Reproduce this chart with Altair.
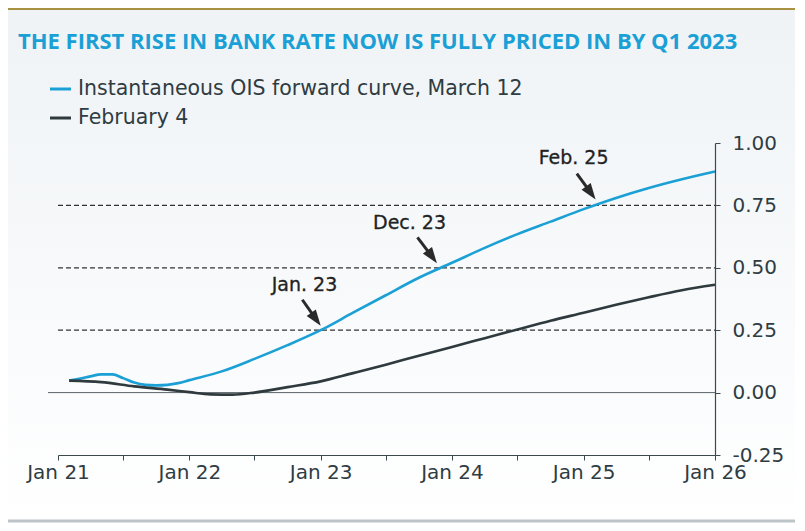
import altair as alt
import pandas as pd

# ---- data ----
mar12_dates = ["2021-02-01", "2021-03-01", "2021-04-01", "2021-05-01", "2021-06-01",
               "2021-07-01", "2021-08-01", "2021-09-01", "2021-10-01", "2021-11-01",
               "2021-12-01", "2022-01-01", "2022-04-01", "2022-07-01", "2022-10-01",
               "2023-01-01", "2023-04-01", "2023-07-01", "2023-10-01", "2024-01-01",
               "2024-04-01", "2024-07-01", "2024-10-01", "2025-01-01", "2025-04-01",
               "2025-07-01", "2025-10-01", "2026-01-01"]
mar12_values = [0.048, 0.055, 0.065, 0.073, 0.073, 0.058, 0.040, 0.031, 0.029, 0.031,
                0.038, 0.050, 0.085, 0.135, 0.190, 0.250, 0.320, 0.390, 0.460, 0.520,
                0.580, 0.635, 0.685, 0.735, 0.780, 0.820, 0.855, 0.886]

feb4_dates = ["2021-02-01", "2021-05-01", "2021-08-01", "2021-11-01", "2022-01-01",
              "2022-03-01", "2022-05-01", "2022-07-01", "2022-10-01", "2023-01-01",
              "2023-04-01", "2023-07-01", "2023-10-01", "2024-01-01", "2024-04-01",
              "2024-07-01", "2024-10-01", "2025-01-01", "2025-04-01", "2025-07-01",
              "2025-10-01", "2026-01-01"]
feb4_values = [0.048, 0.042, 0.025, 0.012, 0.002, -0.007, -0.008, 0.000, 0.022, 0.045,
               0.078, 0.112, 0.148, 0.183, 0.218, 0.253, 0.288, 0.320, 0.352, 0.382,
               0.410, 0.432]

series_names = ["Instantaneous OIS forward curve, March 12", "February 4"]
title_text = "THE FIRST RISE IN BANK RATE NOW IS FULLY PRICED IN BY Q1 2023"

ref_levels = [0.25, 0.50, 0.75]
y_ticks = [-0.25, 0.0, 0.25, 0.50, 0.75, 1.00]
x_domain = ["2021-01-01", "2026-01-01"]
quarter_ticks = [f"{y}-{m:02d}-01" for y in range(2021, 2026) for m in (1, 4, 7, 10)] + ["2026-01-01"]

ann_labels = ["Jan. 23", "Dec. 23", "Feb. 25"]
ann_text_dates = ["2022-11-17", "2023-09-05", "2024-12-04"]
ann_text_values = [0.432, 0.678, 0.938]
arrow_start_dates = ["2022-11-11", "2023-09-27", "2024-12-13"]
arrow_start_values = [0.372, 0.622, 0.877]
arrow_head_dates = ["2022-12-19", "2023-11-07", "2025-01-21"]
arrow_head_values = [0.294, 0.544, 0.800]

# ---- tables ----
lines_df = pd.concat([
    pd.DataFrame({"date": mar12_dates, "value": mar12_values, "series": series_names[0]}),
    pd.DataFrame({"date": feb4_dates, "value": feb4_values, "series": series_names[1]}),
])
ref_df = pd.DataFrame({"value": ref_levels})
ann_df = pd.DataFrame({
    "label": ann_labels, "tdate": ann_text_dates, "tval": ann_text_values,
    "sdate": arrow_start_dates, "sval": arrow_start_values,
    "hdate": arrow_head_dates, "hval": arrow_head_values,
})

BLUE = "#1ba0d6"
DARK = "#2e3a3e"
TXT = "#2f3c42"
FONT = "DejaVu Sans"

W, H = 657, 312
xscale = alt.Scale(type="utc", domain=x_domain)
yscale = alt.Scale(domain=[-0.25, 1.0])
one = pd.DataFrame({"a": [0]})

# background gradient
bg = alt.Chart(one).mark_rect(
    fill=alt.LinearGradient(gradient="linear",
                            stops=[alt.GradientStop(color="#eff3f6", offset=0),
                                   alt.GradientStop(color="#ffffff", offset=1)],
                            x1=0, x2=0, y1=0, y2=1)
).encode(x=alt.value(-50), x2=alt.value(W + 80), y=alt.value(-135), y2=alt.value(H + 70))

top_line = alt.Chart(one).mark_rule(color="#a89140", strokeWidth=2).encode(
    x=alt.value(-50), x2=alt.value(W + 80), y=alt.value(-134))
bottom_line = alt.Chart(one).mark_rule(color="#bcc4c8", strokeWidth=3).encode(
    x=alt.value(-50), x2=alt.value(W + 80), y=alt.value(378))

title = alt.Chart(pd.DataFrame({"t": [title_text]})).mark_text(
    align="left", baseline="middle", font="Open Sans", fontSize=22, fontWeight="bold", color=BLUE
).encode(x=alt.value(-40), y=alt.value(-101), text="t:N")

leg_blue = alt.Chart(one).mark_rule(strokeWidth=3, color=BLUE).encode(
    x=alt.value(-8), x2=alt.value(13), y=alt.value(-54))
leg_dark = alt.Chart(one).mark_rule(strokeWidth=3, color=DARK).encode(
    x=alt.value(-8), x2=alt.value(13), y=alt.value(-25))
leg_t1 = alt.Chart(pd.DataFrame({"t": [series_names[0]]})).mark_text(
    align="left", baseline="middle", font=FONT, fontSize=20.5, color=TXT
).encode(x=alt.value(20), y=alt.value(-54), text="t:N")
leg_t2 = alt.Chart(pd.DataFrame({"t": [series_names[1]]})).mark_text(
    align="left", baseline="middle", font=FONT, fontSize=20.5, color=TXT
).encode(x=alt.value(20), y=alt.value(-25), text="t:N")

zero = alt.Chart(pd.DataFrame({"v": [0.0]})).mark_rule(color="#5a6468", strokeWidth=1).encode(
    x=alt.value(-10), x2=alt.value(W), y=alt.Y("v:Q", scale=yscale))

dashed = alt.Chart(ref_df).mark_rule(color="#333333", strokeWidth=1.3, strokeDash=[5, 3]).encode(
    x=alt.value(0), x2=alt.value(W), y=alt.Y("value:Q", scale=yscale))

lines = alt.Chart(lines_df).mark_line(strokeWidth=2.6, interpolate="monotone").encode(
    x=alt.X("date:T", scale=xscale,
            axis=alt.Axis(values=quarter_ticks, format="%b %y",
                          labelExpr="utcmonth(datum.value) == 0 ? datum.label : ''",
                          title=None, grid=False, domainColor="#3c4a50", tickColor="#3c4a50",
                          tickSize=5, labelPadding=2, labelFont=FONT, labelFontSize=20,
                          labelColor=TXT, labelFlush=False, domainWidth=1.2, zindex=1)),
    y=alt.Y("value:Q", scale=yscale,
            axis=alt.Axis(orient="right", values=y_ticks, format=".2f",
                          labelExpr="replace(datum.label, '\u2212', '-')",
                          title=None, grid=False, domainColor="#3c4a50", tickColor="#3c4a50",
                          tickSize=5, labelPadding=12, labelFont=FONT, labelFontSize=20,
                          labelColor=TXT, domainWidth=1.2, zindex=1)),
    color=alt.Color("series:N", scale=alt.Scale(domain=series_names, range=[BLUE, DARK]), legend=None),
)

ann_text = alt.Chart(ann_df).mark_text(
    align="center", baseline="middle", font=FONT, fontSize=19, color="#222222",
    stroke="#222222", strokeWidth=0.3
).encode(x=alt.X("tdate:T", scale=xscale), y=alt.Y("tval:Q", scale=yscale), text="label:N")

shaft = alt.Chart(ann_df).mark_rule(color="#2a2a2a", strokeWidth=3).encode(
    x=alt.X("sdate:T", scale=xscale), x2="hdate:T",
    y=alt.Y("sval:Q", scale=yscale), y2="hval:Q")

head = alt.Chart(ann_df).mark_point(
    shape="M0,-1L0.7,1L-0.7,1Z", filled=True, color="#2a2a2a", size=260, angle=144, opacity=1
).encode(x=alt.X("hdate:T", scale=xscale), y=alt.Y("hval:Q", scale=yscale))

chart = alt.layer(
    bg, top_line, bottom_line, title, leg_blue, leg_dark, leg_t1, leg_t2,
    zero, dashed, lines, shaft, head, ann_text
).properties(
    width=W, height=H,
    autosize=alt.AutoSizeParams(type="none"),
    padding={"left": 50, "top": 135, "right": 80, "bottom": 72},
).configure_view(stroke=None).configure(background="white")

chart.save("out.html", embed_options={"renderer": "svg", "actions": False})
